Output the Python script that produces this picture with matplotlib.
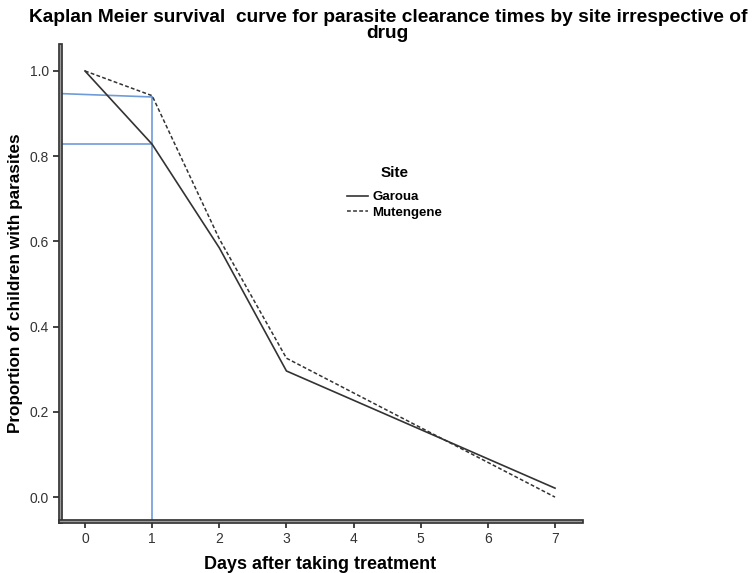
import matplotlib.pyplot as plt
import matplotlib.patheffects as pe

plt.rcParams['font.family'] = ['Liberation Sans', 'DejaVu Sans']

days = [0, 1, 2, 3, 7]
garoua = [1.0, 0.828, 0.585, 0.296, 0.021]
mutengene = [1.0, 0.942, 0.606, 0.326, 0.0]

# reference lines drawn at day 1
ref_day = 1
ref_low = 0.828
ref_high_left = 0.947
ref_high_right = 0.939

x_ticks = [0, 1, 2, 3, 4, 5, 6, 7]
y_ticks = [0.0, 0.2, 0.4, 0.6, 0.8, 1.0]

fig = plt.figure(figsize=(7.53, 5.73), dpi=100)
ax = fig.add_axes([0.0797, 0.0908, 0.6919, 0.8307])
xmin, xmax = -0.372, 7.387
ax.set_xlim(xmin, xmax)
ax.set_ylim(-0.056, 1.061)

blue = '#6f9bd8'
ax.plot([xmin, ref_day], [ref_high_left, ref_high_right], color=blue, lw=1.2)
ax.plot([xmin, ref_day], [ref_low, ref_low], color=blue, lw=1.2)
ax.plot([ref_day, ref_day], [-0.056, ref_high_right], color=blue, lw=1.2)

ax.plot(days, garoua, color='#333333', lw=1.2, linestyle='-', label='Garoua')
ax.plot(days, mutengene, color='#333333', lw=1.1, linestyle=(0, (2.5, 1.5)), label='Mutengene')

for side in ['top', 'right']:
    ax.spines[side].set_visible(False)
for side in ['left', 'bottom']:
    sp = ax.spines[side]
    sp.set_linewidth(3.2)
    sp.set_color('#3a3a3a')
    sp.set_path_effects([pe.Stroke(linewidth=3.4, foreground='#333333'),
                         pe.Stroke(linewidth=1.0, foreground='#9a9a9a')])

ax.set_xticks(x_ticks)
ax.set_yticks(y_ticks)
ax.set_yticklabels([f'{v:.1f}' for v in y_ticks])
ax.tick_params(direction='out', length=5, width=1.2, color='#222222',
               labelsize=10, labelcolor='#333333', pad=3)

ax.set_xlabel('Days after taking treatment', fontsize=13, fontweight='bold', labelpad=7)
ax.set_ylabel('Proportion of children with parasites', fontsize=12.3, fontweight='bold', labelpad=5)

fig.text(0.515, 0.955, 'Kaplan Meier survival  curve for parasite clearance times by site irrespective of\ndrug',
         ha='center', va='center', fontsize=13.8, fontweight='bold', linespacing=0.95)

leg = ax.legend(loc='upper left', bbox_to_anchor=(0.533, 0.765), frameon=False,
                title='Site', fontsize=9.5, handlelength=1.6, handletextpad=0.3,
                labelspacing=0.25, borderpad=0.2)
leg.get_title().set_fontweight('bold')
leg.get_title().set_fontsize(11)
leg._legend_box.sep = 8
for t in leg.get_texts():
    t.set_fontweight('bold')

fig.savefig('out.png', dpi=100)
